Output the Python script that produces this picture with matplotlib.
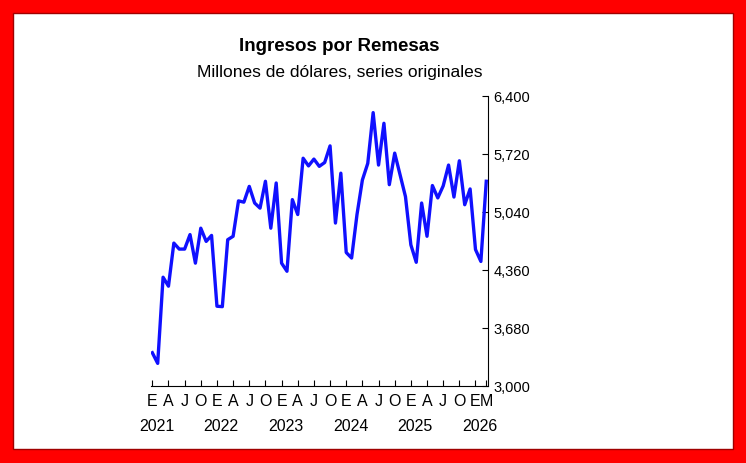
import matplotlib.pyplot as plt
from matplotlib.patches import Rectangle

plt.rcParams['font.family'] = ['Liberation Sans', 'DejaVu Sans']

# monthly remittances, Jan 2021 - Mar 2026 (million USD)
values = [
    3390, 3265, 4275, 4170, 4675, 4605, 4605, 4775, 4440, 4850, 4695, 4765,
    3935, 3930, 4715, 4755, 5170, 5155, 5340, 5145, 5085, 5400, 4850, 5380,
    4440, 4345, 5185, 5010, 5670, 5580, 5660, 5575, 5620, 5815, 4910, 5495,
    4565, 4500, 5010, 5415, 5610, 6205, 5590, 6080, 5360, 5730, 5475, 5220,
    4655, 4450, 5145, 4755, 5350, 5205, 5345, 5590, 5215, 5640, 5125, 5310,
    4600, 4460, 5400,
]
years = ["2021", "2022", "2023", "2024", "2025", "2026"]
month_letters = ["E", "A", "J", "O"]
y_ticks = [3000, 3680, 4360, 5040, 5720, 6400]

fig = plt.figure(figsize=(7.46, 4.64), dpi=100)

# red frame
fig.patches.append(Rectangle((0, 0), 1, 1, transform=fig.transFigure,
                             facecolor="#ff0000", edgecolor="none", zorder=-3))
fig.patches.append(Rectangle((0.018, 0.03), 0.964, 0.94, transform=fig.transFigure,
                             facecolor="white", edgecolor="#a00000", lw=1.0, zorder=-2))

ax = fig.add_axes([0.202, 0.166, 0.452, 0.625])
x = list(range(len(values)))
ax.plot(x, values, color="#1010ff", lw=2.4)

ax.set_ylim(3000, 6400)
ax.set_xlim(-0.3, len(values) - 0.7)
ax.yaxis.tick_right()
ax.set_yticks(y_ticks)
ax.set_yticklabels([f"{v:,}" for v in y_ticks], fontsize=10.5)
ax.tick_params(axis="y", direction="in", length=4, pad=4)

ticks = list(range(0, len(values), 3)) + [len(values) - 1]
labels = [month_letters[(t % 12) // 3] for t in ticks]
labels[-1] = "M"
ax.set_xticks(ticks)
ax.set_xticklabels(labels, fontsize=11.5)
ax.tick_params(axis="x", direction="in", length=4, pad=5)
for i, yr in enumerate(years):
    ax.text(i * 12 + 0.8, -0.135, yr, transform=ax.get_xaxis_transform(),
            ha="center", va="center", fontsize=11.5)

for s in ["top", "left"]:
    ax.spines[s].set_visible(False)

fig.text(0.455, 0.89, "Ingresos por Remesas", ha="center", fontsize=13.5, weight="bold")
fig.text(0.455, 0.835, "Millones de dólares, series originales", ha="center", fontsize=12.5)

fig.savefig("out.png", dpi=100)
